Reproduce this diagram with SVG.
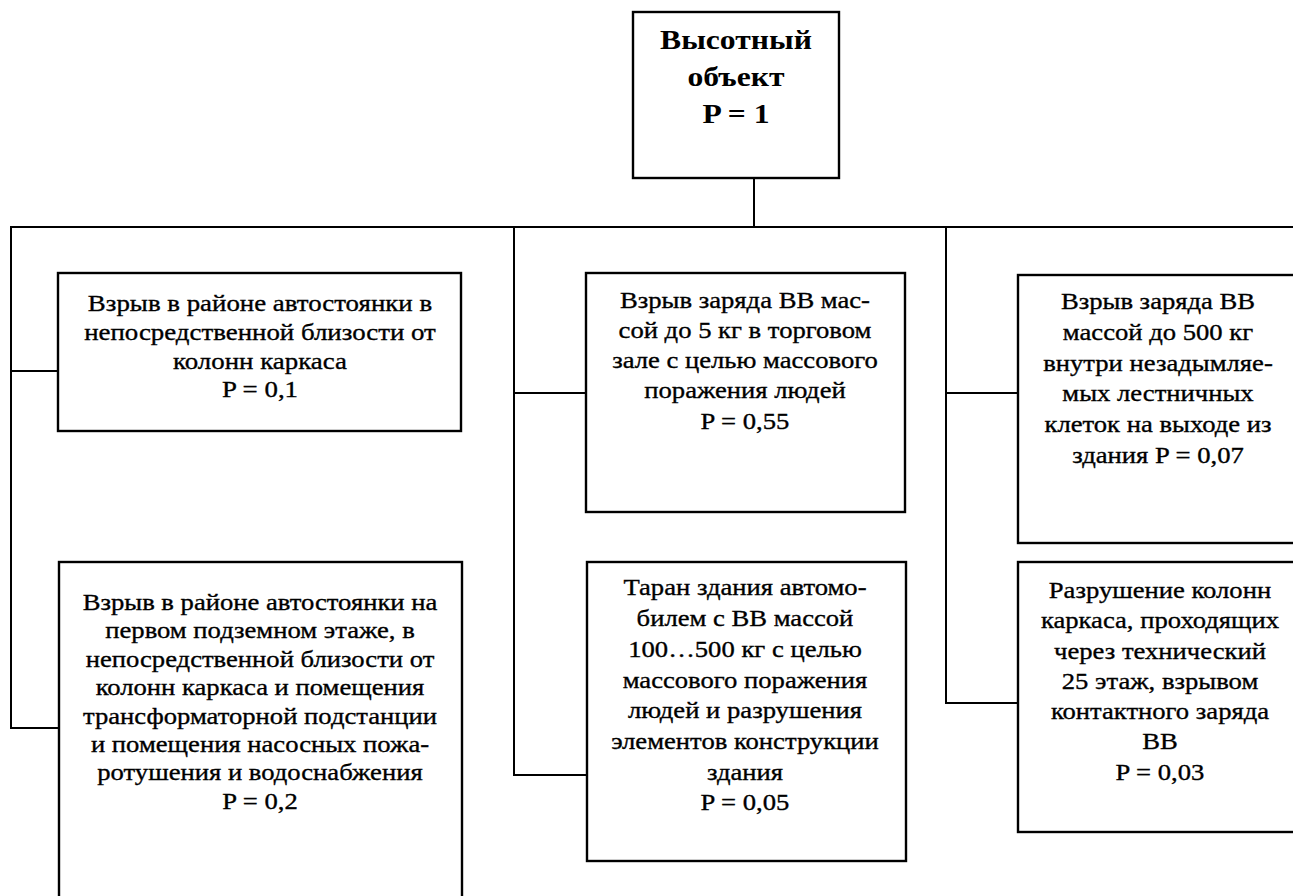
<svg xmlns="http://www.w3.org/2000/svg" width="1293" height="896" viewBox="0 0 1293 896">
<style>
.box{fill:#fff;stroke:#000;stroke-width:2.4}
.ln{fill:none;stroke:#000;stroke-width:2}
text{fill:#000;text-anchor:middle}
.t{font-size:24px;font-weight:400;stroke:#000;stroke-width:0.35}
.b{font-size:28px;font-weight:bold}
</style>
<rect width="1293" height="896" fill="#fff"/>
<g id="connectors">
<path class="ln" d="M754 178V227M10 227H1300M11 227V728H59M11 371H58M514 227V775H587M514 393H586M946 227V703H1018M946 393H1018"/>
</g>
<g font-family="'Liberation Serif', Tinos, 'Times New Roman', 'DejaVu Serif', serif">
<g id="root">
<rect class="box" x="633" y="12" width="206" height="166"/>
<g transform="matrix(1.13,0,0,1,-95.68,0)">
<text class="b" x="736" y="49">Высотный</text>
<text class="b" x="736" y="86">объект</text>
<text class="b" x="736" y="123">P = 1</text>
</g>
</g>
<g id="n1">
<rect class="box" x="58" y="273" width="403" height="158"/>
<g transform="matrix(1.12,0,0,1,-31.2,0)">
<text class="t" x="260" y="311.5">Взрыв в районе автостоянки в</text>
<text class="t" x="260" y="340.1">непосредственной близости от</text>
<text class="t" x="260" y="368.7">колонн каркаса</text>
<text class="t" x="260" y="397.3">P = 0,1</text>
</g>
</g>
<g id="n2">
<rect class="box" x="59" y="562" width="403" height="345"/>
<g transform="matrix(1.11,0,0,1,-28.6,0)">
<text class="t" x="260" y="610">Взрыв в районе автостоянки на</text>
<text class="t" x="260" y="638.4">первом подземном этаже, в</text>
<text class="t" x="260" y="666.8">непосредственной близости от</text>
<text class="t" x="260" y="695.2">колонн каркаса и помещения</text>
<text class="t" x="260" y="723.6">трансформаторной подстанции</text>
<text class="t" x="260" y="752">и помещения насосных пожа-</text>
<text class="t" x="260" y="780.4">ротушения и водоснабжения</text>
<text class="t" x="260" y="808.8">P = 0,2</text>
</g>
</g>
<g id="n3">
<rect class="box" x="586" y="273" width="319" height="239"/>
<g transform="matrix(1.11,0,0,1,-81.95,0)">
<text class="t" x="745" y="308.5">Взрыв заряда ВВ мас-</text>
<text class="t" x="745" y="338.4">сой до 5 кг в торговом</text>
<text class="t" x="745" y="368.3">зале с целью массового</text>
<text class="t" x="745" y="398.2">поражения людей</text>
<text class="t" x="745" y="428.8">P = 0,55</text>
</g>
</g>
<g id="n4">
<rect class="box" x="587" y="562" width="319" height="299"/>
<g transform="matrix(1.11,0,0,1,-81.95,0)">
<text class="t" x="745" y="595.5">Таран здания автомо-</text>
<text class="t" x="745" y="626.2">билем с ВВ массой</text>
<text class="t" x="745" y="656.9">100…500 кг с целью</text>
<text class="t" x="745" y="687.6">массового поражения</text>
<text class="t" x="745" y="718.3">людей и разрушения</text>
<text class="t" x="745" y="749">элементов конструкции</text>
<text class="t" x="745" y="779.7">здания</text>
<text class="t" x="745" y="810.4">P = 0,05</text>
</g>
</g>
<g id="n5">
<rect class="box" x="1018" y="275" width="300" height="268"/>
<g transform="matrix(1.11,0,0,1,-127.38,0)">
<text class="t" x="1158" y="309">Взрыв заряда ВВ</text>
<text class="t" x="1158" y="339.8">массой до 500 кг</text>
<text class="t" x="1158" y="370.6">внутри незадымляе-</text>
<text class="t" x="1158" y="401.4">мых лестничных</text>
<text class="t" x="1158" y="432.2">клеток на выходе из</text>
<text class="t" x="1158" y="463">здания P = 0,07</text>
</g>
</g>
<g id="n6">
<rect class="box" x="1018" y="562" width="300" height="270"/>
<g transform="matrix(1.11,0,0,1,-127.6,0)">
<text class="t" x="1160" y="598">Разрушение колонн</text>
<text class="t" x="1160" y="628.3">каркаса, проходящих</text>
<text class="t" x="1160" y="658.6">через технический</text>
<text class="t" x="1160" y="688.9">25 этаж, взрывом</text>
<text class="t" x="1160" y="719.2">контактного заряда</text>
<text class="t" x="1160" y="749.5">ВВ</text>
<text class="t" x="1160" y="779.8">P = 0,03</text>
</g>
</g>
</g>
</svg>
